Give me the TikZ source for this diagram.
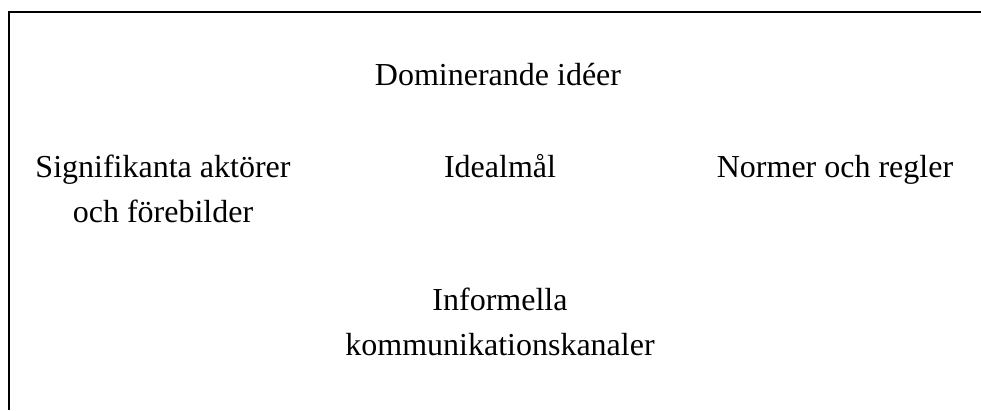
\documentclass[tikz,border=0pt]{standalone}
\usepackage{fontspec}
\setmainfont{Liberation Serif}
\usepackage{tikz}
\usetikzlibrary{positioning}

\begin{document}
\begin{tikzpicture}[x=1pt, y=-1pt,
    Faktor/.style={inner sep=0pt, align=center, anchor=base, font=\fontsize{32}{45}\selectfont}]

            \useasboundingbox (0,0) rectangle (981,410);

            % frame, open to the right and below
            \coordinate (RamTop) at (981,12);
            \coordinate (RamHorn) at (9,12);
            \coordinate (RamFot) at (9,410);
            \draw[line width=2.5pt] (RamTop) -- (RamHorn) -- (RamFot);

            % base anchor sits on the last line of each node
            \node[Faktor] (Ideer) at (498,85) {Dominerande idéer};
            \node[Faktor] (Ideal) at (500,177) {Idealmål};
            \node[Faktor] (Aktorer) at (163,222)
                {Signifikanta aktörer\\
                 och förebilder};
            \node[Faktor] (Normer) at (835,177) {Normer och regler};
            \node[Faktor] (Kanaler) at (500,355)
                {Informella\\
                 kommunikationskanaler};
        \end{tikzpicture}
\end{document}
